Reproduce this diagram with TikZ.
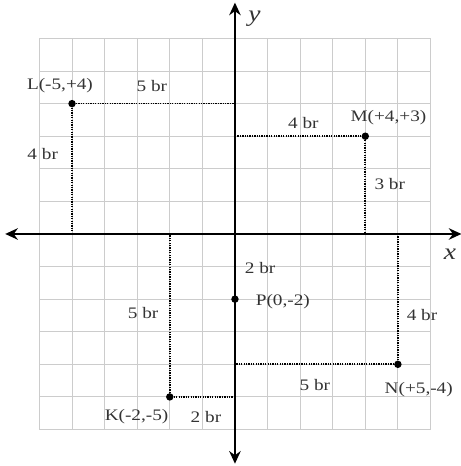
\documentclass[tikz,border=0pt]{standalone}
\usepackage{fontspec}
\setmainfont{Liberation Serif}[FakeStretch=1.2]
\usetikzlibrary{arrows.meta}

\begin{document}
\begin{tikzpicture}[font=\fontsize{14}{16}\selectfont,
  pt/.style={circle,fill=black,inner sep=0pt,minimum size=6.5pt},
  guide/.style={line width=1.5pt,dash pattern=on 1.1pt off 1pt},
  lbl/.style={text=black!80,inner sep=0pt},
  axis/.style={line width=2.2pt,{Stealth[length=11pt,width=10pt]}-{Stealth[length=11pt,width=10pt]}}]

\useasboundingbox (-7.21,-7.12) rectangle (6.93,7.18);

% Grid
\draw[gray!40,line width=0.8pt] (-6,-6) grid (6,6);

% Ends of the axes
\coordinate (xl) at (-7.05,0);
\coordinate (xr) at (6.95,0);
\coordinate (yt) at (0,7.1);
\coordinate (yb) at (0,-7.05);

% Feet of the dotted lines on the axes
\coordinate (Lx) at (-5,0);
\coordinate (Ly) at (0,4);
\coordinate (Mx) at (4,0);
\coordinate (My) at (0,3);
\coordinate (Nx) at (5,0);
\coordinate (Ny) at (0,-4);
\coordinate (Kx) at (-2,0);
\coordinate (Ky) at (0,-5);

% Points
\node[pt] (L) at (-5,4) {};
\node[pt] (M) at (4,3) {};
\node[pt] (N) at (5,-4) {};
\node[pt] (K) at (-2,-5) {};
\node[pt] (P) at (0,-2) {};

% Dotted lines
\draw[guide] (L) -- (Ly);
\draw[guide] (L) -- (Lx);
\draw[guide] (M) -- (My);
\draw[guide] (M) -- (Mx);
\draw[guide] (N) -- (Ny);
\draw[guide] (N) -- (Nx);
\draw[guide] (K) -- (Ky);
\draw[guide] (K) -- (Kx);

% Axes
\draw[axis] (xl) -- (xr);
\draw[axis] (yb) -- (yt);
\node[lbl,font=\fontsize{20}{22}\selectfont\itshape] (xlab) at (6.6,-0.62) {x};
\node[lbl,font=\fontsize{20}{22}\selectfont\itshape] (ylab) at (0.6,6.6) {y};

% Point labels
\node[lbl] (Llab) at (-5.37,4.54) {L(-5,+4)};
\node[lbl] (Mlab) at (4.71,3.56) {M(+4,+3)};
\node[lbl] (Nlab) at (5.64,-4.79) {N(+5,-4)};
\node[lbl] (Klab) at (-3.02,-5.61) {K(-2,-5)};
\node[lbl] (Plab) at (1.47,-2.08) {P(0,-2)};

% Distances
\node[lbl] (d1) at (-2.55,4.54) {5 br};
\node[lbl] (d2) at (-5.9,2.45) {4 br};
\node[lbl] (d3) at (2.1,3.4) {4 br};
\node[lbl] (d4) at (4.75,1.53) {3 br};
\node[lbl] (d5) at (0.77,-1.04) {2 br};
\node[lbl] (d6) at (5.74,-2.48) {4 br};
\node[lbl] (d7) at (2.45,-4.63) {5 br};
\node[lbl] (d8) at (-2.82,-2.43) {5 br};
\node[lbl] (d9) at (-0.89,-5.61) {2 br};

\end{tikzpicture}
\end{document}
